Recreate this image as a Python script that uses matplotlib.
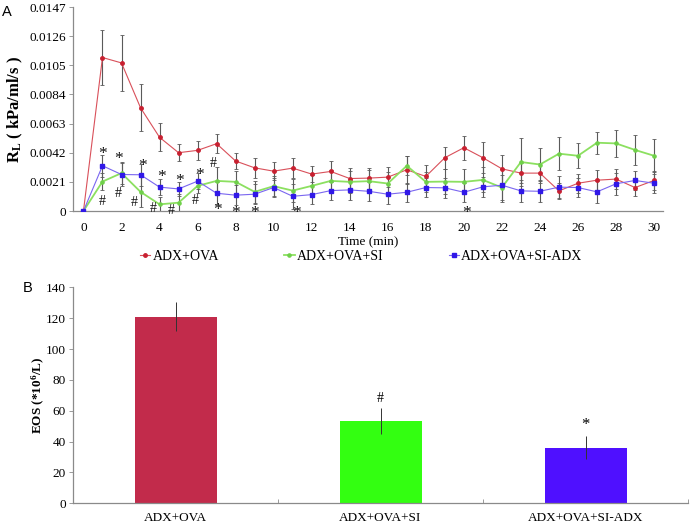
import matplotlib
matplotlib.use("Agg")
import matplotlib.pyplot as plt
import numpy as np
from matplotlib.ticker import FixedLocator

plt.rcParams['font.family'] = ['Liberation Serif', 'DejaVu Serif']
plt.rcParams['mathtext.fontset'] = 'custom'
plt.rcParams['mathtext.rm'] = 'Liberation Serif'
plt.rcParams['mathtext.bf'] = 'Liberation Serif:bold'
plt.rcParams['mathtext.it'] = 'Liberation Serif:italic'

# ---------------- Panel A data ----------------
time_min = list(range(0, 31))
series_names = ["ADX+OVA", "ADX+OVA+SI", "ADX+OVA+SI-ADX"]

rl_ova = [0, 0.01106, 0.01067, 0.00744, 0.00531, 0.00420, 0.00437, 0.00485, 0.00360,
          0.00311, 0.00287, 0.00309, 0.00266, 0.00285, 0.00234, 0.00237, 0.00244,
          0.00297, 0.00249, 0.00384, 0.00456, 0.00384, 0.00304, 0.00273, 0.00273,
          0.00145, 0.00200, 0.00222, 0.00230, 0.00169, 0.00220]
rl_ova_err = [0, 0.0020, 0.0020, 0.0017, 0.0010, 0.0006, 0.0007, 0.0007, 0.0006,
              0.0007, 0.00065, 0.0007, 0.0006, 0.00075, 0.00075, 0.00075, 0.0007,
              0.0010, 0.0008, 0.0008, 0.00085, 0.0011, 0.0010, 0.0007, 0.0007,
              0.0006, 0.0007, 0.0007, 0.0007, 0.0006, 0.0007]

rl_si = [0, 0.00212, 0.00273, 0.00138, 0.00048, 0.00060, 0.00181, 0.00217, 0.00210,
         0.00138, 0.00179, 0.00147, 0.00181, 0.00217, 0.00210, 0.00215, 0.00198,
         0.00326, 0.00210, 0.00212, 0.00210, 0.00224, 0.00169, 0.00353, 0.00335,
         0.00413, 0.00398, 0.00492, 0.00487, 0.00440, 0.00398]
rl_si_err = [0, 0.0006, 0.0008, 0.0011, 0.0005, 0.0006, 0.0005, 0.0010, 0.0008,
             0.0008, 0.0007, 0.0008, 0.0008, 0.0008, 0.0008, 0.0008, 0.0008,
             0.0007, 0.0007, 0.0009, 0.0009, 0.0009, 0.0009, 0.0017, 0.0012,
             0.0012, 0.0009, 0.0008, 0.0010, 0.0011, 0.0012]

rl_siadx = [0, 0.00326, 0.00263, 0.00261, 0.00172, 0.00159, 0.00215, 0.00128, 0.00114,
            0.00121, 0.00169, 0.00106, 0.00118, 0.00147, 0.00152, 0.00142, 0.00121,
            0.00135, 0.00169, 0.00167, 0.00135, 0.00174, 0.00186, 0.00145, 0.00142,
            0.00172, 0.00169, 0.00138, 0.00196, 0.00220, 0.00200]
rl_siadx_err = [0, 0.0008, 0.0008, 0.0008, 0.0006, 0.0005, 0.0006, 0.0008, 0.0007,
                0.0007, 0.0007, 0.0009, 0.0007, 0.0007, 0.0007, 0.0007, 0.0007,
                0.0007, 0.0007, 0.0007, 0.0007, 0.0007, 0.0012, 0.0008, 0.0008,
                0.0008, 0.0007, 0.0008, 0.0008, 0.0007, 0.0007]

a_yticks = [0, 0.0021, 0.0042, 0.0063, 0.0084, 0.0105, 0.0126, 0.0147]
a_yticklabels = ["0", "0.0021", "0.0042", "0.0063", "0.0084", "0.0105", "0.0126", "0.0147"]
a_xticks = list(range(0, 31, 2))

# significance marks: (time, value, symbol)
sig_t = [1, 1, 1.85, 1.85, 3.08, 2.68, 4.1, 3.68, 5.03, 4.64, 6.08, 5.9, 6.83, 7.06, 8.02, 9.02, 11.2, 20.15]
sig_v = [0.00437, 0.00072, 0.0040, 0.00123, 0.0035, 0.0006, 0.00273, 0.0002, 0.00241, 0.00005,
         0.00285, 0.00075, 0.00345, 0.00035, 0.00012, 0.00012, 0.00012, 0.00012]
sig_s = ["*", "#", "*", "#", "*", "#", "*", "#", "*", "#", "*", "#", "#", "*", "*", "*", "*", "*"]

# ---------------- Panel B data ----------------
groups = ["ADX+OVA", "ADX+OVA+SI", "ADX+OVA+SI-ADX"]
eos = [121, 53.3, 36.0]
eos_err = [9.5, 8.5, 7.6]
eos_sig = ["", "#", "*"]
b_yticks = [0, 20, 40, 60, 80, 100, 120, 140]

# ---------------- styles ----------------
line_cols = ["#d9505a", "#8ce060", "#7a66f0"]
mark_cols = ["#c82030", "#6fd04a", "#3018e8"]
markers = ["o", "o", "s"]
msizes = [2.5, 2.3, 3.4]
lws = [0.8, 1.3, 0.8]
bar_cols = ["#c22b4b", "#33ff11", "#4f10ff"]

fig = plt.figure(figsize=(6.9, 5.27), dpi=100)
axA = fig.add_axes([73/690, 1-211/527, (663-73)/690, (211-7)/527])
axB = fig.add_axes([73/690, 1-503.3/527, (688-73)/690, (503.3-287.3)/527])

gray = "#8a8a8a"

# Panel A
data = [(rl_ova, rl_ova_err), (rl_si, rl_si_err), (rl_siadx, rl_siadx_err)]
handles = []
for i, (vals, errs) in enumerate(data):
    axA.errorbar(time_min, vals, yerr=errs, fmt='none', ecolor='#5a5a5a',
                 elinewidth=0.8, capsize=1.2, capthick=0.6, zorder=2)
    h, = axA.plot(time_min, vals, color=line_cols[i], lw=lws[i], marker=markers[i],
                  ms=msizes[i], mfc=mark_cols[i], mec=mark_cols[i], zorder=3,
                  label=series_names[i])
    handles.append(h)

for t, v, s in zip(sig_t, sig_v, sig_s):
    fs = 12.5 if s == "*" else 10
    dv = -0.00025 if s == "*" else 0
    axA.text(t, v + dv, s, ha='center', va='center', fontsize=fs, color='#111111', zorder=4)

axA.set_xlim(-0.55, 30.47)
axA.set_ylim(0, 0.0147)
axA.set_yticks(a_yticks)
axA.set_yticklabels(a_yticklabels)
axA.set_xticks(a_xticks)
axA.tick_params(axis='y', direction='out', length=3, width=0.6, color=gray, labelsize=9.5, pad=2)
axA.tick_params(axis='x', length=0, labelsize=9.5, pad=8)
for sp in ['top', 'right']:
    axA.spines[sp].set_visible(False)
for sp in ['left', 'bottom']:
    axA.spines[sp].set_color(gray)
    axA.spines[sp].set_linewidth(0.9)
axA.set_xlabel("Time (min)", fontsize=9.5, labelpad=1.5)
axA.set_ylabel(r"$\mathbf{R}_{\mathbf{L}}$ ( kPa/ml/s )", fontsize=12, fontweight='bold', labelpad=3)

fig.legend(handles=handles, labels=series_names, loc='center left',
           bbox_to_anchor=(140/690, 1-256/527), ncol=3, frameon=False,
           fontsize=10, handlelength=0.75, handletextpad=0.15, columnspacing=4.7,
           borderpad=0, borderaxespad=0)

fig.text(2/690, 1-12/527, "A", fontsize=10.5, family='Liberation Sans', va='center', ha='left')
fig.text(23/690, 1-288/527, "B", fontsize=10.5, family='Liberation Sans', va='center', ha='left')

# Panel B
xpos = np.arange(len(groups))
axB.bar(xpos, eos, width=0.4, color=bar_cols, zorder=2)
axB.errorbar(xpos, eos, yerr=eos_err, fmt='none', ecolor='#333333', elinewidth=0.7,
             capsize=0, zorder=3)
for x, v, e, s in zip(xpos, eos, eos_err, eos_sig):
    if s:
        fs = 12 if s == "*" else 10
        axB.text(x, v + e + 2, s, ha='center', va='bottom', fontsize=fs)
axB.set_xlim(-0.5, 2.5)
axB.set_ylim(0, 140)
axB.set_yticks(b_yticks)
axB.set_xticks(xpos)
axB.set_xticklabels(groups)
axB.xaxis.set_minor_locator(FixedLocator([0.5, 1.5, 2.5]))
axB.tick_params(axis='x', which='major', length=0, labelsize=9.5, pad=6)
axB.tick_params(axis='x', which='minor', direction='in', length=3, width=0.6, color=gray)
axB.tick_params(axis='y', direction='out', length=3, width=0.6, color=gray, labelsize=9.5, pad=2)
for sp in ['top', 'right']:
    axB.spines[sp].set_visible(False)
for sp in ['left', 'bottom']:
    axB.spines[sp].set_color(gray)
    axB.spines[sp].set_linewidth(0.9)
axB.set_ylabel(r"EOS (*10$^{\mathbf{6}}$/L)", fontsize=9.5, fontweight='bold', labelpad=-1)

fig.savefig("out.png", dpi=100)
